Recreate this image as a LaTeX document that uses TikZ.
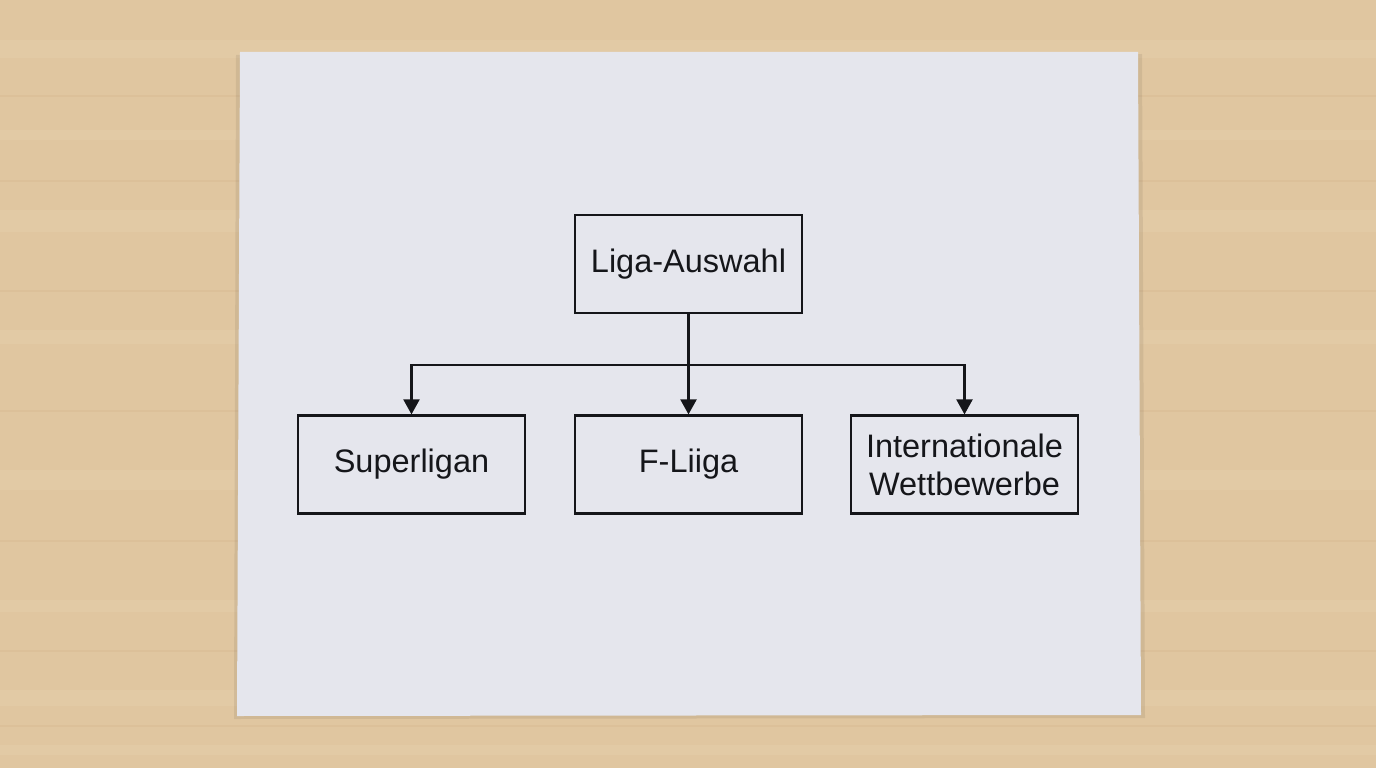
\documentclass[tikz,border=0pt]{standalone}
\usepackage{fontspec}
\setmainfont{Liberation Sans}
\usetikzlibrary{arrows.meta}
\definecolor{wood}{HTML}{E0C6A0}
\definecolor{woodlight}{HTML}{E8D2B0}
\definecolor{wooddark}{HTML}{D3B58A}
\definecolor{paper}{HTML}{E5E6ED}
\definecolor{ink}{HTML}{15161A}
\tikzset{
  box/.style={draw=ink, line width=2.2pt, minimum width=227pt, minimum height=98pt, inner sep=0pt, align=center, font=\fontsize{32.5}{38}\selectfont, text=ink},
  conn/.style={draw=ink, line width=2.2pt},
  arr/.style={conn, -{Triangle[width=16pt,length=15pt]}}
}
\begin{document}
\begin{tikzpicture}[x=1pt,y=-1pt]
\useasboundingbox (0,0) rectangle (1376,768);
% wood background
\fill[wood] (0,0) rectangle (1376,768);
\foreach \y/\h in {40/18,130/10,210/22,330/14,470/20,600/12,690/16,745/10}{
  \fill[woodlight,opacity=0.35] (0,\y) rectangle (1376,\y+\h);
}
\foreach \y in {95,180,290,410,540,650,725}{
  \fill[wooddark,opacity=0.3] (0,\y) rectangle (1376,\y+2);
}
% paper shadow and paper
\fill[black,opacity=0.07] (236,55) -- (1142,54) -- (1145,718) -- (234,719) -- cycle;
\fill[paper] (240,52) -- (1138,52) -- (1141,715) -- (237,716) -- cycle;
% nodes
\node[box] (top) at (688.5,264) {Liga-Auswahl};
\node[box] (sup) at (411.5,464.5) {Superligan};
\node[box] (fli) at (688.5,464.5) {F-Liiga};
\node[box] (int) at (964.5,464.5) {Internationale\\Wettbewerbe};
% connectors
\coordinate (j) at (688.5,365);
\draw[arr] (top.south) -- (fli.north);
\draw[arr] (j) -| (sup.north);
\draw[arr] (j) -| (int.north);
\end{tikzpicture}
\end{document}
